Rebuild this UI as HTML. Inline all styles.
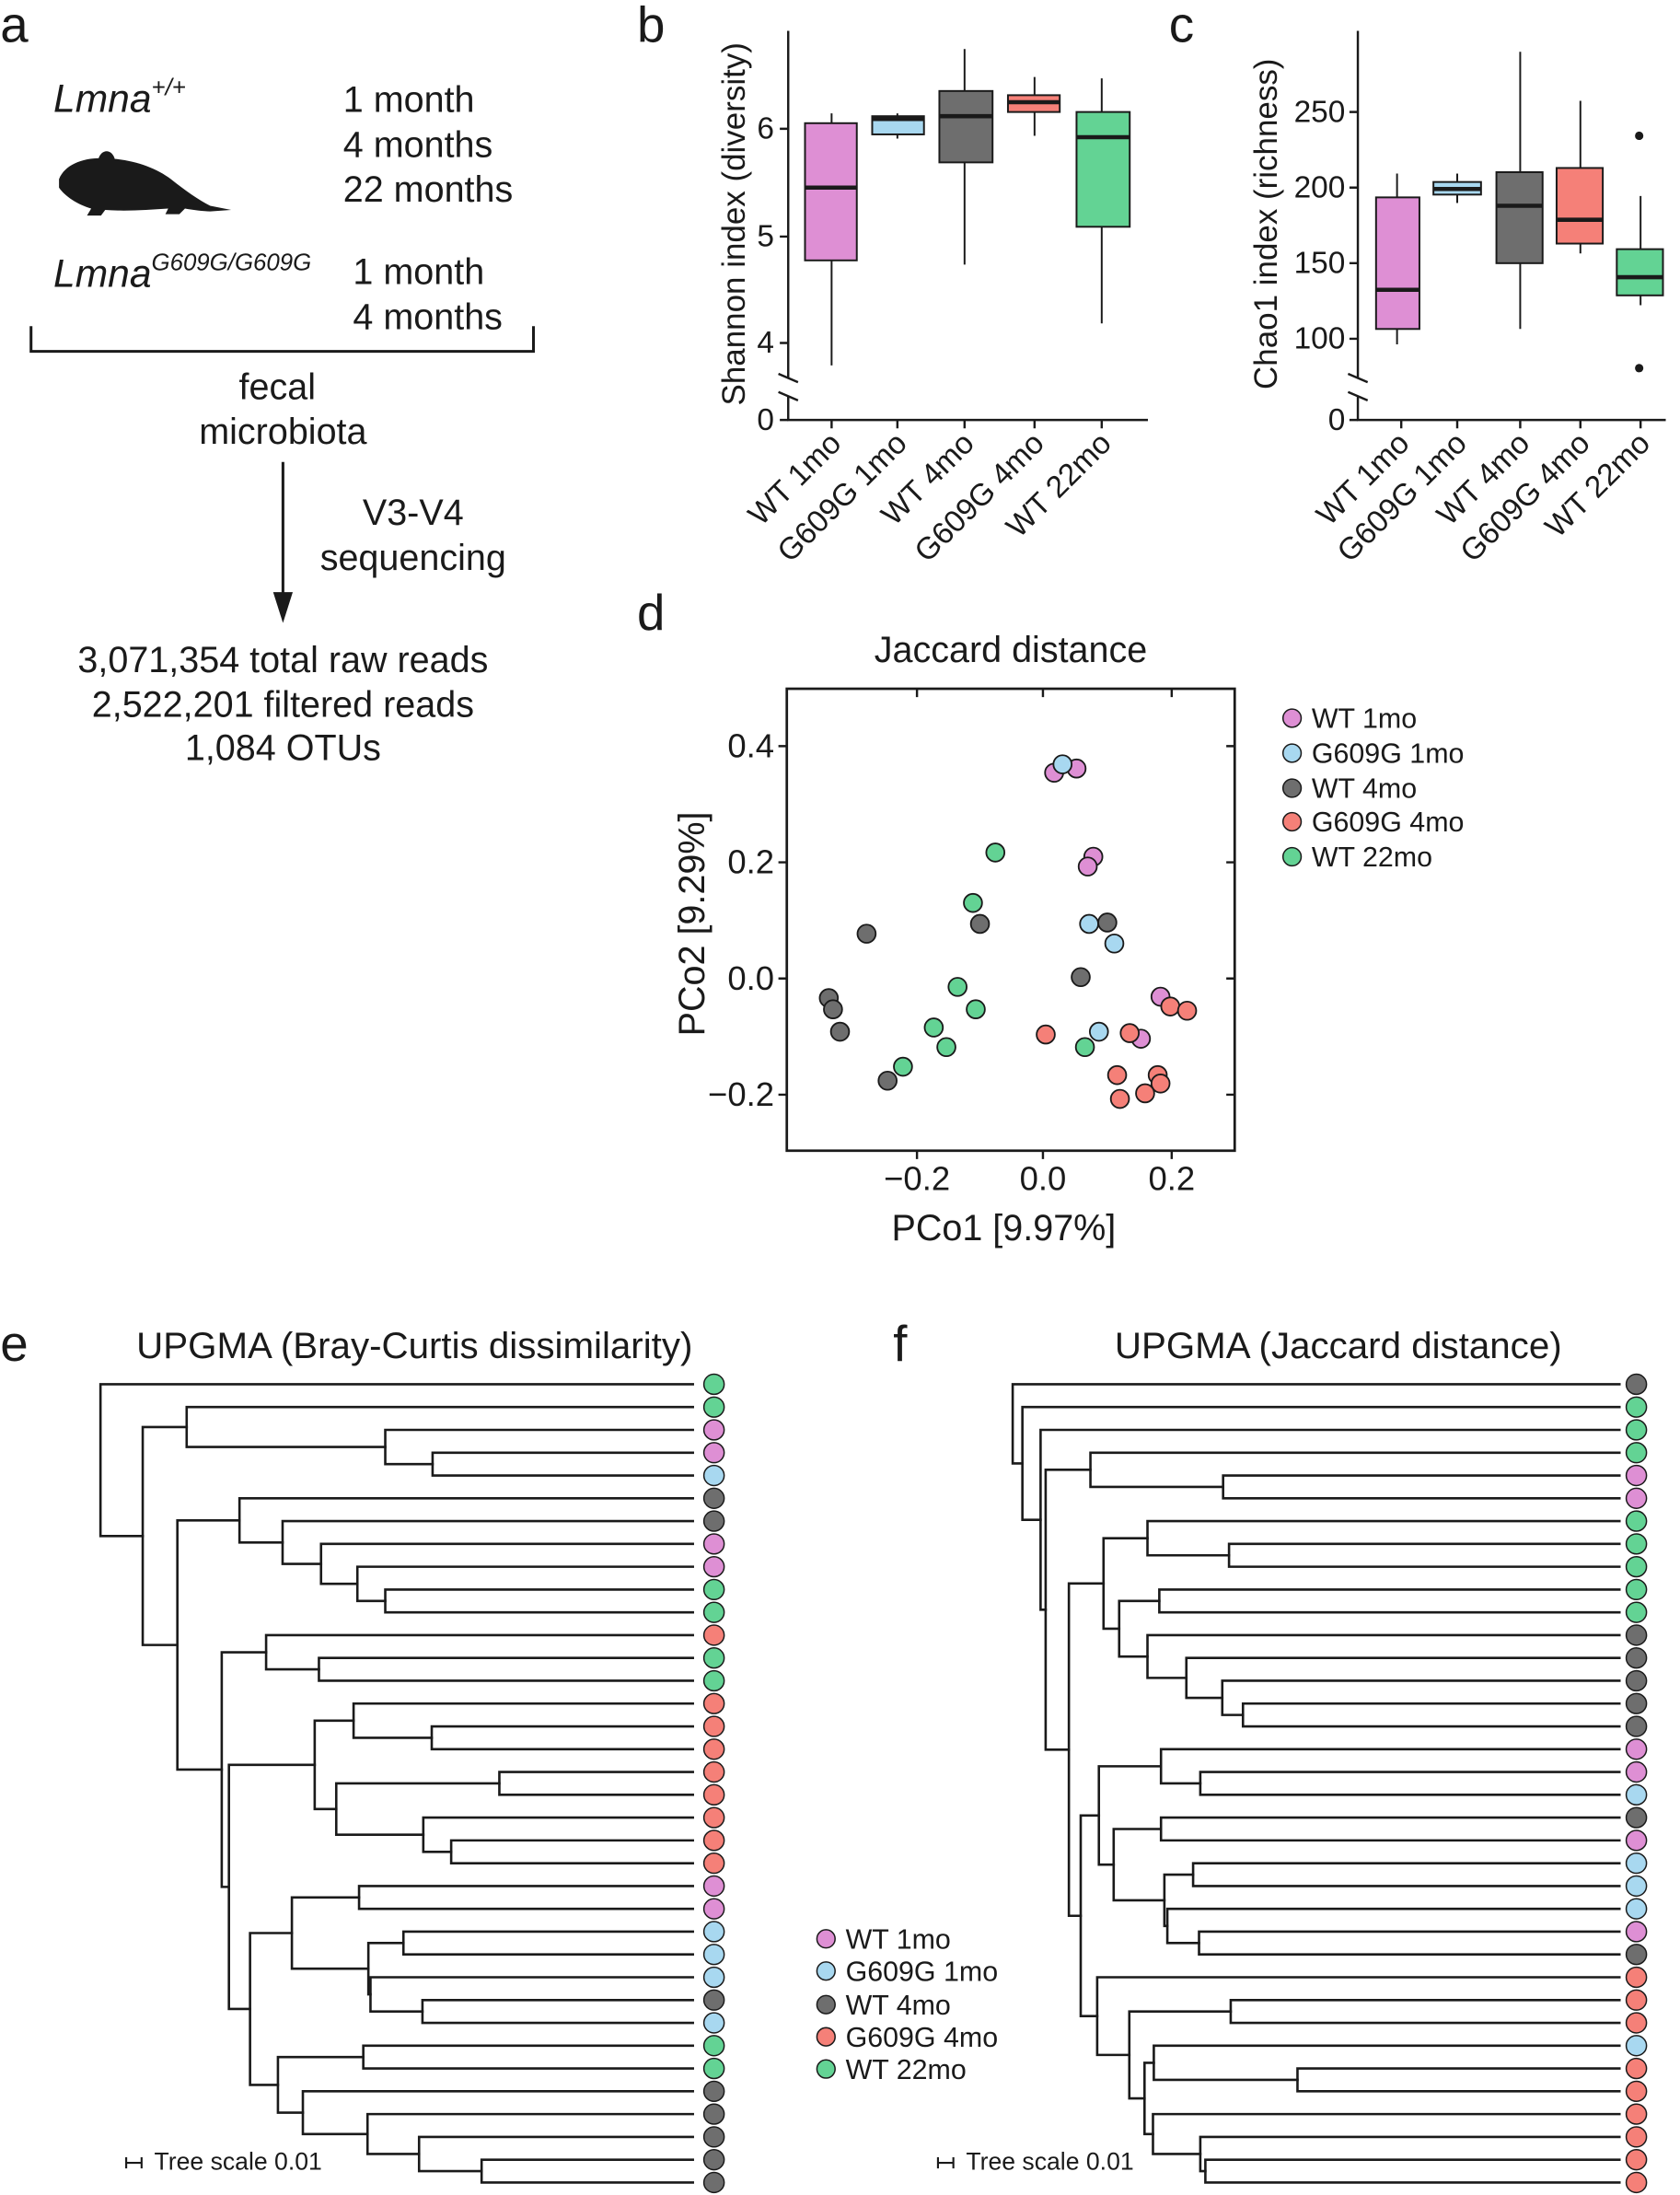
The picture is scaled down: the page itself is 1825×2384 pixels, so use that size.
<!DOCTYPE html>
<html><head><meta charset="utf-8"><style>
html,body{margin:0;padding:0;background:#fff}
svg{display:block}
text{font-family:"Liberation Sans",Arial,sans-serif;fill:#1a1a1a}
</style></head><body>
<svg id="s" width="1825" height="2384" viewBox="0 0 1200 1568" xmlns="http://www.w3.org/2000/svg">
<!-- panel a -->
<text x="0" y="30" font-size="36">a</text>
<text x="38" y="80" font-size="28" font-style="italic">Lmna<tspan font-size="17" dy="-12">+/+</tspan></text>
<text x="245" y="80" font-size="26">1 month</text>
<text x="245" y="112" font-size="26">4 months</text>
<text x="245" y="144" font-size="26">22 months</text>
<path d="M42,128 C46,118 58,113 72,113 C92,113 110,119 122,128 C132,136 142,143 150,147 L165,150 L150,151 C145,151 138,150 132,149 L128,153 L118,153 L120,149 C105,150 90,151 75,150 L72,154 L62,154 L65,149 C55,146 46,140 42,134 Z M70,114 C72,106 80,106 82,114 Z" fill="#1a1a1a"/>
<text x="38" y="205" font-size="28" font-style="italic">Lmna<tspan font-size="17" dy="-12">G609G/G609G</tspan></text>
<text x="252" y="203" font-size="26">1 month</text>
<text x="252" y="235" font-size="26">4 months</text>
<path d="M22,233 V251 H381 V233" fill="none" stroke="#1a1a1a" stroke-width="2"/>
<text x="198" y="285" font-size="26" text-anchor="middle">fecal</text>
<text x="202" y="317" font-size="26" text-anchor="middle">microbiota</text>
<line x1="202" y1="330" x2="202" y2="425" stroke="#1a1a1a" stroke-width="2"/>
<path d="M195,423 L209,423 L202,445 Z" fill="#1a1a1a"/>
<text x="295" y="375" font-size="26" text-anchor="middle">V3-V4</text>
<text x="295" y="407" font-size="26" text-anchor="middle">sequencing</text>
<text x="202" y="480" font-size="26" text-anchor="middle">3,071,354 total raw reads</text>
<text x="202" y="512" font-size="26" text-anchor="middle">2,522,201 filtered reads</text>
<text x="202" y="543" font-size="26" text-anchor="middle">1,084 OTUs</text>

<!-- panel b -->
<text x="455" y="30" font-size="36">b</text>
<g stroke="#1a1a1a" stroke-width="1.6" fill="none">
<path d="M563,22 V270 M563,283 V300 H820 M556,267 L570,273 M556,280 L570,286"/>
<path d="M557,92 H563 M557,169 H563 M557,245 H563 M557,300 H563"/>
<path d="M594,300 V306 M641,300 V306 M689,300 V306 M739,300 V306 M787,300 V306"/>
</g>
<g font-size="22" text-anchor="end">
<text x="553" y="99">6</text><text x="553" y="176">5</text><text x="553" y="252">4</text><text x="553" y="307">0</text>
</g>
<text transform="translate(532,160) rotate(-90)" font-size="23" text-anchor="middle">Shannon index (diversity)</text>
<g stroke="#1a1a1a" stroke-width="1.3">
<line x1="594" y1="81" x2="594" y2="261"/><rect x="575" y="88" width="37" height="98" fill="#de8fd4"/><line x1="575" y1="134" x2="612" y2="134" stroke-width="3"/>
<line x1="641" y1="81" x2="641" y2="99"/><rect x="623" y="83" width="37" height="13" fill="#a8d8f0"/><line x1="623" y1="85" x2="660" y2="85" stroke-width="3"/>
<line x1="689" y1="35" x2="689" y2="189"/><rect x="671" y="65" width="38" height="51" fill="#6e6e6e"/><line x1="671" y1="83" x2="709" y2="83" stroke-width="3"/>
<line x1="739" y1="55" x2="739" y2="97"/><rect x="720" y="68" width="37" height="12" fill="#f58078"/><line x1="720" y1="73" x2="757" y2="73" stroke-width="3"/>
<line x1="787" y1="56" x2="787" y2="231"/><rect x="769" y="80" width="38" height="82" fill="#63d394"/><line x1="769" y1="98" x2="807" y2="98" stroke-width="3"/>
</g>
<g font-size="22" text-anchor="end">
<text transform="translate(602,318) rotate(-45)">WT 1mo</text>
<text transform="translate(649,318) rotate(-45)">G609G 1mo</text>
<text transform="translate(697,318) rotate(-45)">WT 4mo</text>
<text transform="translate(747,318) rotate(-45)">G609G 4mo</text>
<text transform="translate(795,318) rotate(-45)">WT 22mo</text>
</g>

<!-- panel c -->
<text x="835" y="30" font-size="36">c</text>
<g stroke="#1a1a1a" stroke-width="1.6" fill="none">
<path d="M970,22 V270 M970,283 V300 H1190 M963,267 L977,273 M963,280 L977,286"/>
<path d="M964,80 H970 M964,134 H970 M964,188 H970 M964,242 H970 M964,300 H970"/>
<path d="M1001,300 V306 M1041,300 V306 M1086,300 V306 M1129,300 V306 M1172,300 V306"/>
</g>
<g font-size="22" text-anchor="end">
<text x="961" y="87">250</text><text x="961" y="141">200</text><text x="961" y="195">150</text><text x="961" y="249">100</text><text x="961" y="307">0</text>
</g>
<text transform="translate(912,160) rotate(-90)" font-size="23" text-anchor="middle">Chao1 index (richness)</text>
<g stroke="#1a1a1a" stroke-width="1.3">
<line x1="998" y1="124" x2="998" y2="246"/><rect x="983" y="141" width="31" height="94" fill="#de8fd4"/><line x1="983" y1="207" x2="1014" y2="207" stroke-width="3"/>
<line x1="1041" y1="124" x2="1041" y2="145"/><rect x="1024" y="130" width="34" height="9" fill="#a8d8f0"/><line x1="1024" y1="135" x2="1058" y2="135" stroke-width="3"/>
<line x1="1086" y1="37" x2="1086" y2="235"/><rect x="1069" y="123" width="33" height="65" fill="#6e6e6e"/><line x1="1069" y1="147" x2="1102" y2="147" stroke-width="3"/>
<line x1="1129" y1="72" x2="1129" y2="181"/><rect x="1112" y="120" width="33" height="54" fill="#f58078"/><line x1="1112" y1="157" x2="1145" y2="157" stroke-width="3"/>
<line x1="1172" y1="140" x2="1172" y2="218"/><rect x="1155" y="178" width="33" height="33" fill="#63d394"/><line x1="1155" y1="198" x2="1188" y2="198" stroke-width="3"/>
</g>
<circle cx="1171" cy="97" r="3" fill="#1a1a1a"/><circle cx="1171" cy="263" r="3" fill="#1a1a1a"/>
<g font-size="22" text-anchor="end">
<text transform="translate(1008,318) rotate(-45)">WT 1mo</text>
<text transform="translate(1049,318) rotate(-45)">G609G 1mo</text>
<text transform="translate(1094,318) rotate(-45)">WT 4mo</text>
<text transform="translate(1137,318) rotate(-45)">G609G 4mo</text>
<text transform="translate(1180,318) rotate(-45)">WT 22mo</text>
</g>

<!-- panel d -->
<text x="455" y="450" font-size="36">d</text>
<text x="722" y="473" font-size="26" text-anchor="middle">Jaccard distance</text>
<rect x="562" y="492" width="320" height="330" fill="none" stroke="#1a1a1a" stroke-width="1.8"/>
<g stroke="#1a1a1a" stroke-width="1.6">
<path d="M556,533 H562 M556,616 H562 M556,699 H562 M556,782 H562 M882,533 h-6 M882,616 h-6 M882,699 h-6 M882,782 h-6"/>
<path d="M655,822 V828 M745,822 V828 M837,822 V828 M655,492 v6 M745,492 v6 M837,492 v6"/>
</g>
<g font-size="24" text-anchor="end">
<text x="553" y="541">0.4</text><text x="553" y="624">0.2</text><text x="553" y="707">0.0</text><text x="553" y="790">−0.2</text>
</g>
<g font-size="24" text-anchor="middle">
<text x="655" y="850">−0.2</text><text x="745" y="850">0.0</text><text x="837" y="850">0.2</text>
</g>
<text transform="translate(503,660) rotate(-90)" font-size="26" text-anchor="middle">PCo2 [9.29%]</text>
<text x="717" y="886" font-size="26" text-anchor="middle">PCo1 [9.97%]</text>
<g id="pts" stroke="#1a1a1a" stroke-width="1.2"></g>
<g font-size="20">
<circle cx="923" cy="513" r="6.5" fill="#de8fd4" stroke="#1a1a1a"/><text x="937" y="520">WT 1mo</text>
<circle cx="923" cy="538" r="6.5" fill="#a8d8f0" stroke="#1a1a1a"/><text x="937" y="545">G609G 1mo</text>
<circle cx="923" cy="563" r="6.5" fill="#6e6e6e" stroke="#1a1a1a"/><text x="937" y="570">WT 4mo</text>
<circle cx="923" cy="587" r="6.5" fill="#f58078" stroke="#1a1a1a"/><text x="937" y="594">G609G 4mo</text>
<circle cx="923" cy="612" r="6.5" fill="#63d394" stroke="#1a1a1a"/><text x="937" y="619">WT 22mo</text>
</g>

<!-- panel e/f -->
<text x="0" y="972" font-size="36">e</text>
<text x="296" y="970" font-size="26.5" text-anchor="middle">UPGMA (Bray-Curtis dissimilarity)</text>
<text x="638" y="972" font-size="36">f</text>
<text x="956" y="970" font-size="26.5" text-anchor="middle">UPGMA (Jaccard distance)</text>
<g id="treeE" transform="translate(52.6,973) scale(0.3019,0.3774)"></g>
<g id="treeF" transform="translate(710.1,973) scale(0.3019,0.3774)"></g>
<g font-size="17.5">
<path d="M90,1545 H101 M90,1541 V1549 M101,1541 V1549" stroke="#1a1a1a" stroke-width="1.4"/>
<text x="110" y="1550">Tree scale 0.01</text>
<path d="M670,1545 H681 M670,1541 V1549 M681,1541 V1549" stroke="#1a1a1a" stroke-width="1.4"/>
<text x="690" y="1550">Tree scale 0.01</text>
</g>
<g font-size="20">
<circle cx="590" cy="1385" r="6.5" fill="#de8fd4" stroke="#1a1a1a"/><text x="604" y="1392">WT 1mo</text>
<circle cx="590" cy="1408" r="6.5" fill="#a8d8f0" stroke="#1a1a1a"/><text x="604" y="1415">G609G 1mo</text>
<circle cx="590" cy="1432" r="6.5" fill="#6e6e6e" stroke="#1a1a1a"/><text x="604" y="1439">WT 4mo</text>
<circle cx="590" cy="1455" r="6.5" fill="#f58078" stroke="#1a1a1a"/><text x="604" y="1462">G609G 4mo</text>
<circle cx="590" cy="1478" r="6.5" fill="#63d394" stroke="#1a1a1a"/><text x="604" y="1485">WT 22mo</text>
</g>
</svg>
<script>
var NS="http://www.w3.org/2000/svg";
var C={P:"#de8fd4",B:"#a8d8f0",K:"#6e6e6e",R:"#f58078",G:"#63d394"};
function el(p,t,a){var e=document.createElementNS(NS,t);for(var k in a)e.setAttribute(k,a[k]);p.appendChild(e);return e;}
var pts={P:[[753,552],[769,549],[781,612],[777,619],[829,712],[815,742]],
B:[[759,546],[778,660],[796,674],[785,737]],
K:[[619,667],[592,713],[595,721],[600,737],[634,772],[700,660],[791,659],[772,698]],
R:[[747,739],[807,738],[836,719],[848,722],[798,768],[827,768],[800,785],[829,774],[818,781]],
G:[[711,609],[695,645],[684,705],[697,721],[667,734],[676,748],[645,762],[775,748]]};
var pg=document.getElementById("pts");
for(var k in pts)pts[k].forEach(function(p){el(pg,"circle",{cx:p[0],cy:p[1],r:6.5,fill:C[k]});});
function leafY(i){return 42+(i-1)*43.17;}
function draw(g,tree,cols,lx,cx){
  function rec2(n){
    if(typeof n==="number")return {x:lx,y:leafY(n),leaf:true};
    var x=n[0],a=rec2(n[1]),b=rec2(n[2]);
    el(g,"path",{d:"M"+x+","+a.y+" V"+b.y+" M"+x+","+a.y+" H"+(a.leaf?lx:a.x)+" M"+x+","+b.y+" H"+(b.leaf?lx:b.x),fill:"none",stroke:"#1a1a1a","stroke-width":2.6,"vector-effect":"non-scaling-stroke","stroke-linecap":"square"});
    return {x:x,y:(a.y+b.y)/2};
  }
  rec2(tree);
  for(var i=0;i<cols.length;i++)el(g,"ellipse",{cx:cx,cy:leafY(i+1),rx:24,ry:19,fill:C[cols[i]],stroke:"#1a1a1a","stroke-width":1.5,"vector-effect":"non-scaling-stroke"});
}
var tE=[63,1,[163,[267,2,[737,3,[849,4,5]]],[245,[392,6,[494,7,[585,8,[671,9,[737,10,11]]]]],
 [350,[455,12,[580,13,14]],[367,[570,[662,15,[847,16,17]],[621,[1007,18,19],[827,20,[893,21,22]]]],
 [417,[516,[675,23,24],[697,[780,25,26],[702,27,[825,28,29]]]],[483,[685,30,31],[542,32,[695,33,[817,34,[965,35,36]]]]]]]]]]];
var cE="GGPPBKKPPGGRGGRRRRRRRRPPBBBKBGGKKKKK";
var tF=[44,1,[67,2,[110,3,[122,[228,4,[542,5,6]],[177,[259,[363,7,[556,8,9]],[296,[391,10,11],[363,12,[455,13,[540,14,[589,15,16]]]]]],
 [205,[248,[395,17,[488,18,19]],[283,[395,20,21],[403,[471,22,23],[410,24,[485,25,26]]]]],
 [244,27,[320,[560,28,29],[356,[378,30,[718,31,32]],[376,33,[488,34,[500,35,36]]]]]]]]]]]];
var cF="KGGGPPGGGGGKKKKKPPBKPBBBPKRRRBRRRRRR";
draw(document.getElementById("treeE"),tE,cE,1465,1515);
draw(document.getElementById("treeF"),tF,cF,1480,1520);
</script>
</body></html>
